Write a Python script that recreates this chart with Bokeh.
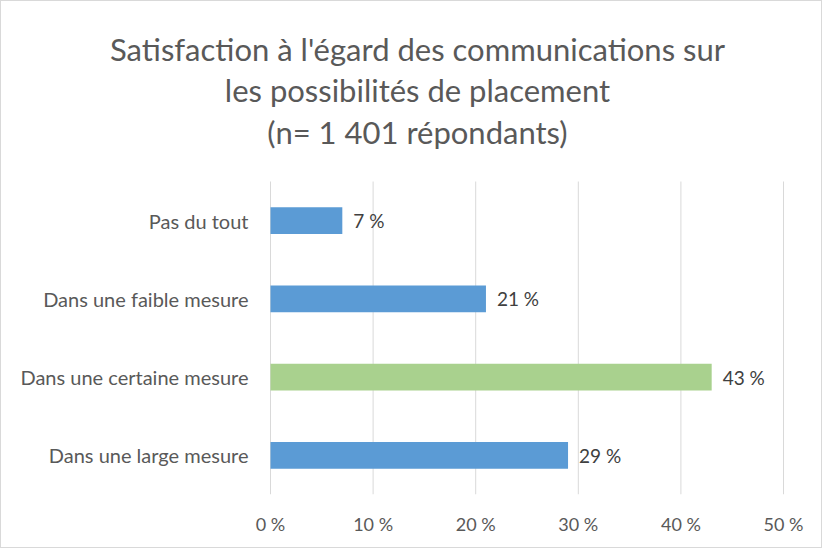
from bokeh.plotting import figure
from bokeh.models import ColumnDataSource, Range1d, FixedTicker
from bokeh.core.properties import value
from bokeh.embed import file_html
from bokeh.resources import INLINE

# Data
categories = ["Pas du tout", "Dans une faible mesure", "Dans une certaine mesure", "Dans une large mesure"]
values = [7, 21, 43, 29]
value_labels = ["7 %", "21 %", "43 %", "29 %"]
x_ticks = [0, 10, 20, 30, 40, 50]
x_tick_labels = ["0 %", "10 %", "20 %", "30 %", "40 %", "50 %"]
title_lines = ["Satisfaction à l'égard des communications sur",
               "les possibilités de placement",
               "(n= 1 401 répondants)"]

FONT = "Lato"
GRAY = "#595959"
BLUE = "#5B9BD5"
GREEN = "#A9D18E"

n = len(categories)
colors = [GREEN if c == "Dans une certaine mesure" else BLUE for c in categories]
ypos = [n - 0.5 - i for i in range(n)]          # top category first
zeros = [0] * n

src = ColumnDataSource(dict(cat=categories, val=values, lab=value_labels, col=colors,
                            y=ypos, zero=zeros))

# layout in pixels
W, H = 820, 546
frame_left_px, frame_right_px = 269, 782     # x = 0 and x = 50
plot_top_px, plot_bottom_px = 180, 493       # top / bottom of category band
px_per_unit = (frame_right_px - frame_left_px) / 50.0
px_per_cat = (plot_bottom_px - plot_top_px) / n
x_start = -frame_left_px / px_per_unit
x_end = 50 + (W - frame_right_px) / px_per_unit
y_end = plot_bottom_px / px_per_cat

p = figure(width=W, height=H, output_backend="svg", toolbar_location=None,
           x_range=Range1d(x_start, x_end), y_range=Range1d(0, y_end),
           min_border_left=0, min_border_right=0, min_border_top=0,
           min_border_bottom=H - plot_bottom_px,
           frame_width=W, frame_height=plot_bottom_px)
p.outline_line_color = None
p.background_fill_color = "white"
p.border_fill_color = "white"
p.styles = {"border": "1px solid #d9d9d9"}

# vertical gridlines over the category band
p.segment(x0=x_ticks, x1=x_ticks, y0=[0] * len(x_ticks), y1=[n] * len(x_ticks),
          line_color="#d9d9d9", line_width=1)

p.hbar(y="y", right="val", left=0, height=0.345, fill_color="col", line_color=None, source=src)
p.text(x="val", y="y", text="lab", x_offset=11, text_baseline="middle", text_align="left",
       text_font=value(FONT), text_font_size="19px", text_color="#404040", source=src)
# category labels
p.text(x="zero", y="y", text="cat", x_offset=-22, text_baseline="middle", text_align="right",
       text_font=value(FONT), text_font_size="20px", text_color=GRAY, source=src)

# title
title_center_px = 416
title_rows_px = [47, 88, 130]
tx = [(title_center_px - frame_left_px) / px_per_unit] * len(title_lines)
ty = [(plot_bottom_px - r) / px_per_cat for r in title_rows_px]
p.text(x=tx, y=ty, text=title_lines, text_align="center", text_baseline="middle",
       text_font=value(FONT), text_font_size="31px", text_color=GRAY)

# axes
p.xaxis.ticker = FixedTicker(ticks=x_ticks)
p.xaxis.major_label_overrides = {t: l for t, l in zip(x_ticks, x_tick_labels)}
p.xaxis.axis_line_color = None
p.xaxis.major_tick_line_color = None
p.xaxis.minor_tick_line_color = None
p.xaxis.major_label_standoff = 12
p.xaxis.major_label_text_font = FONT
p.xaxis.major_label_text_font_size = "18px"
p.xaxis.major_label_text_color = GRAY

p.yaxis.visible = False
p.xgrid.grid_line_color = None
p.ygrid.grid_line_color = None

open("out.html", "w").write(file_html(p, INLINE))
